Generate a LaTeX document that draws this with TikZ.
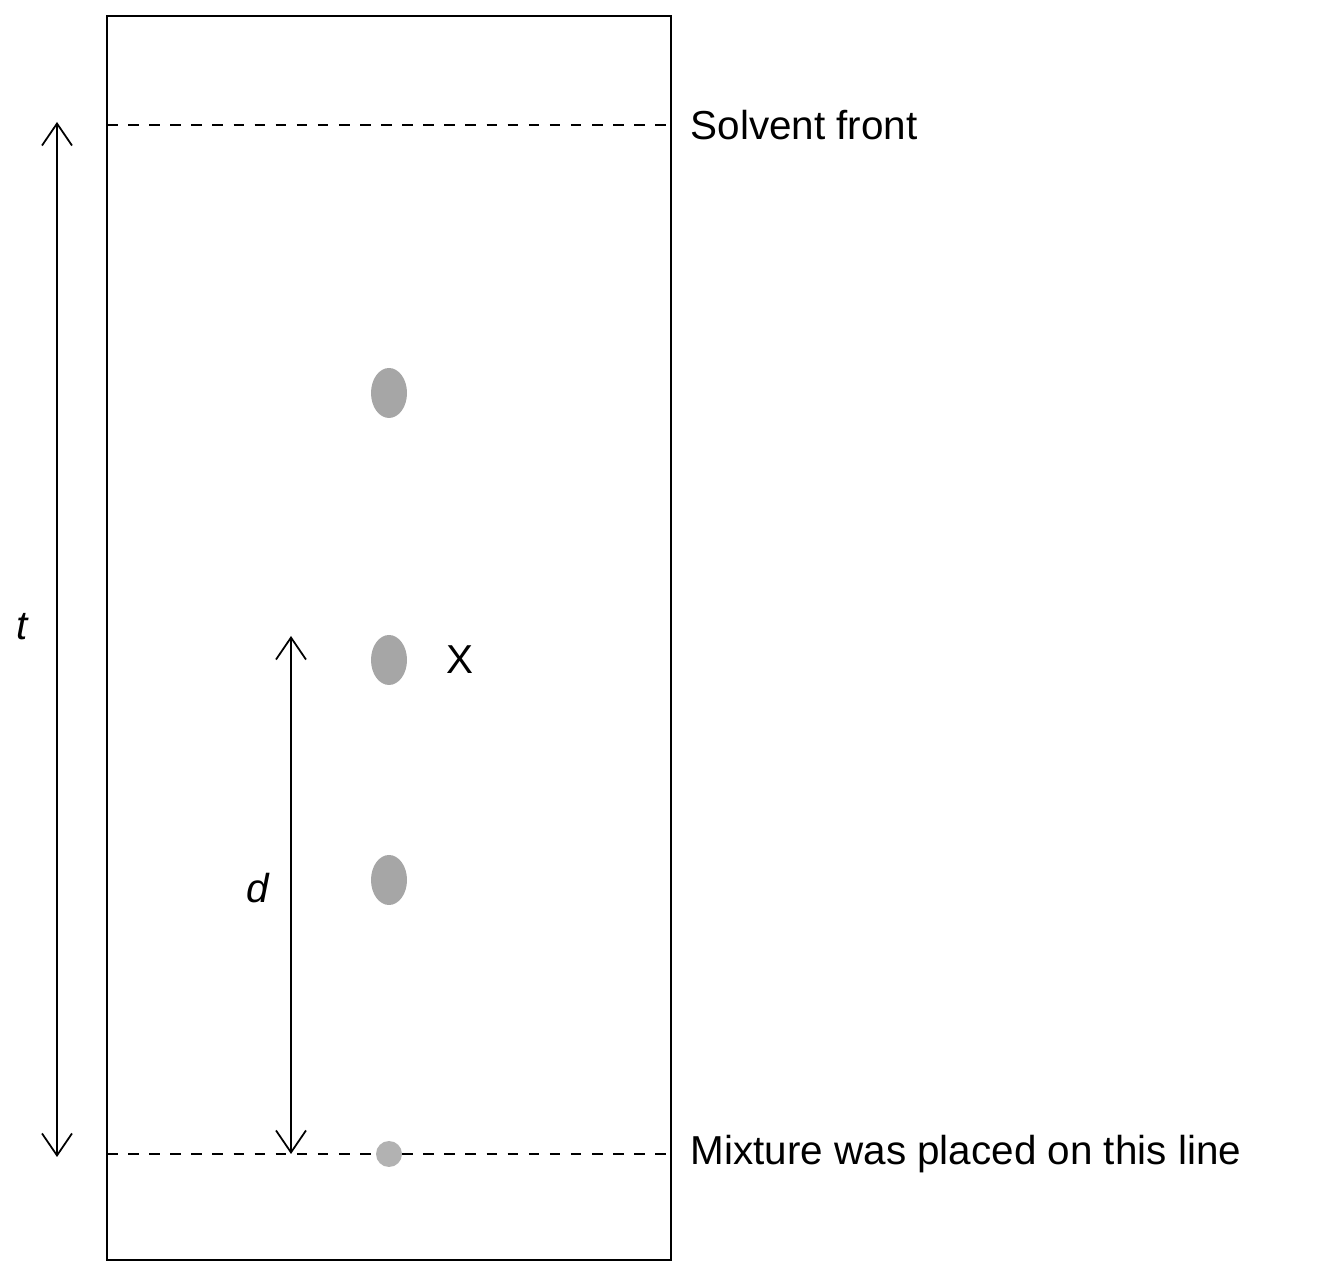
\documentclass[tikz,border=0pt]{standalone}
\usepackage{fontspec}
\setmainfont{Liberation Sans}
\usetikzlibrary{positioning,arrows.meta}
\tikzset{spot/.style={ellipse, fill=black!35, minimum width=0.36cm, minimum height=0.5cm, inner sep=0pt},
lbl/.style={font=\fontsize{11.5}{14}\selectfont, inner sep=0pt},
dim/.style={{Straight Barb[length=2.2mm,width=3mm]}-{Straight Barb[length=2.2mm,width=3mm]}, line width=0.5pt}}
\usetikzlibrary{shapes.geometric}
\begin{document}
\begin{tikzpicture}
\useasboundingbox (0,0) rectangle (13.28,12.73);
\def\yf{11.48}
\def\yb{1.19}

\draw[line width=0.6pt] (1.07,0.13) rectangle (6.71,12.57);
\draw[dashed, line width=0.5pt] (1.07,\yf) -- (6.71,\yf);
\draw[dashed, line width=0.5pt] (1.07,\yb) -- (6.71,\yb);

\node[lbl, anchor=west] (front) at (6.90,\yf) {Solvent front};
\node[lbl, anchor=west] (base) at (6.90,\yb) {Mixture was placed on this line};

% spots
\node[spot] (s1) at (3.89,8.80) {};
\node[spot] (s2) at (3.89,6.13) {};
\node[spot] (s3) at (3.89,3.93) {};
\node[circle, fill=black!30, minimum size=0.26cm, inner sep=0pt] (s0) at (3.89,\yb) {};
\node[lbl, right=0.38cm of s2] (x) {X};

% distances
\coordinate (ttop) at (0.57,11.51);
\coordinate (tbot) at (0.57,1.16);
\draw[dim] (tbot) -- (ttop);
\node[lbl] (t) at (0.22,6.46) {\itshape t};
\coordinate (dtop) at (2.91,6.37);
\coordinate (dbot) at (2.91,1.19);
\draw[dim] (dbot) -- (dtop);
\node[lbl] (d) at (2.58,3.85) {\itshape d};
\end{tikzpicture}
\end{document}
